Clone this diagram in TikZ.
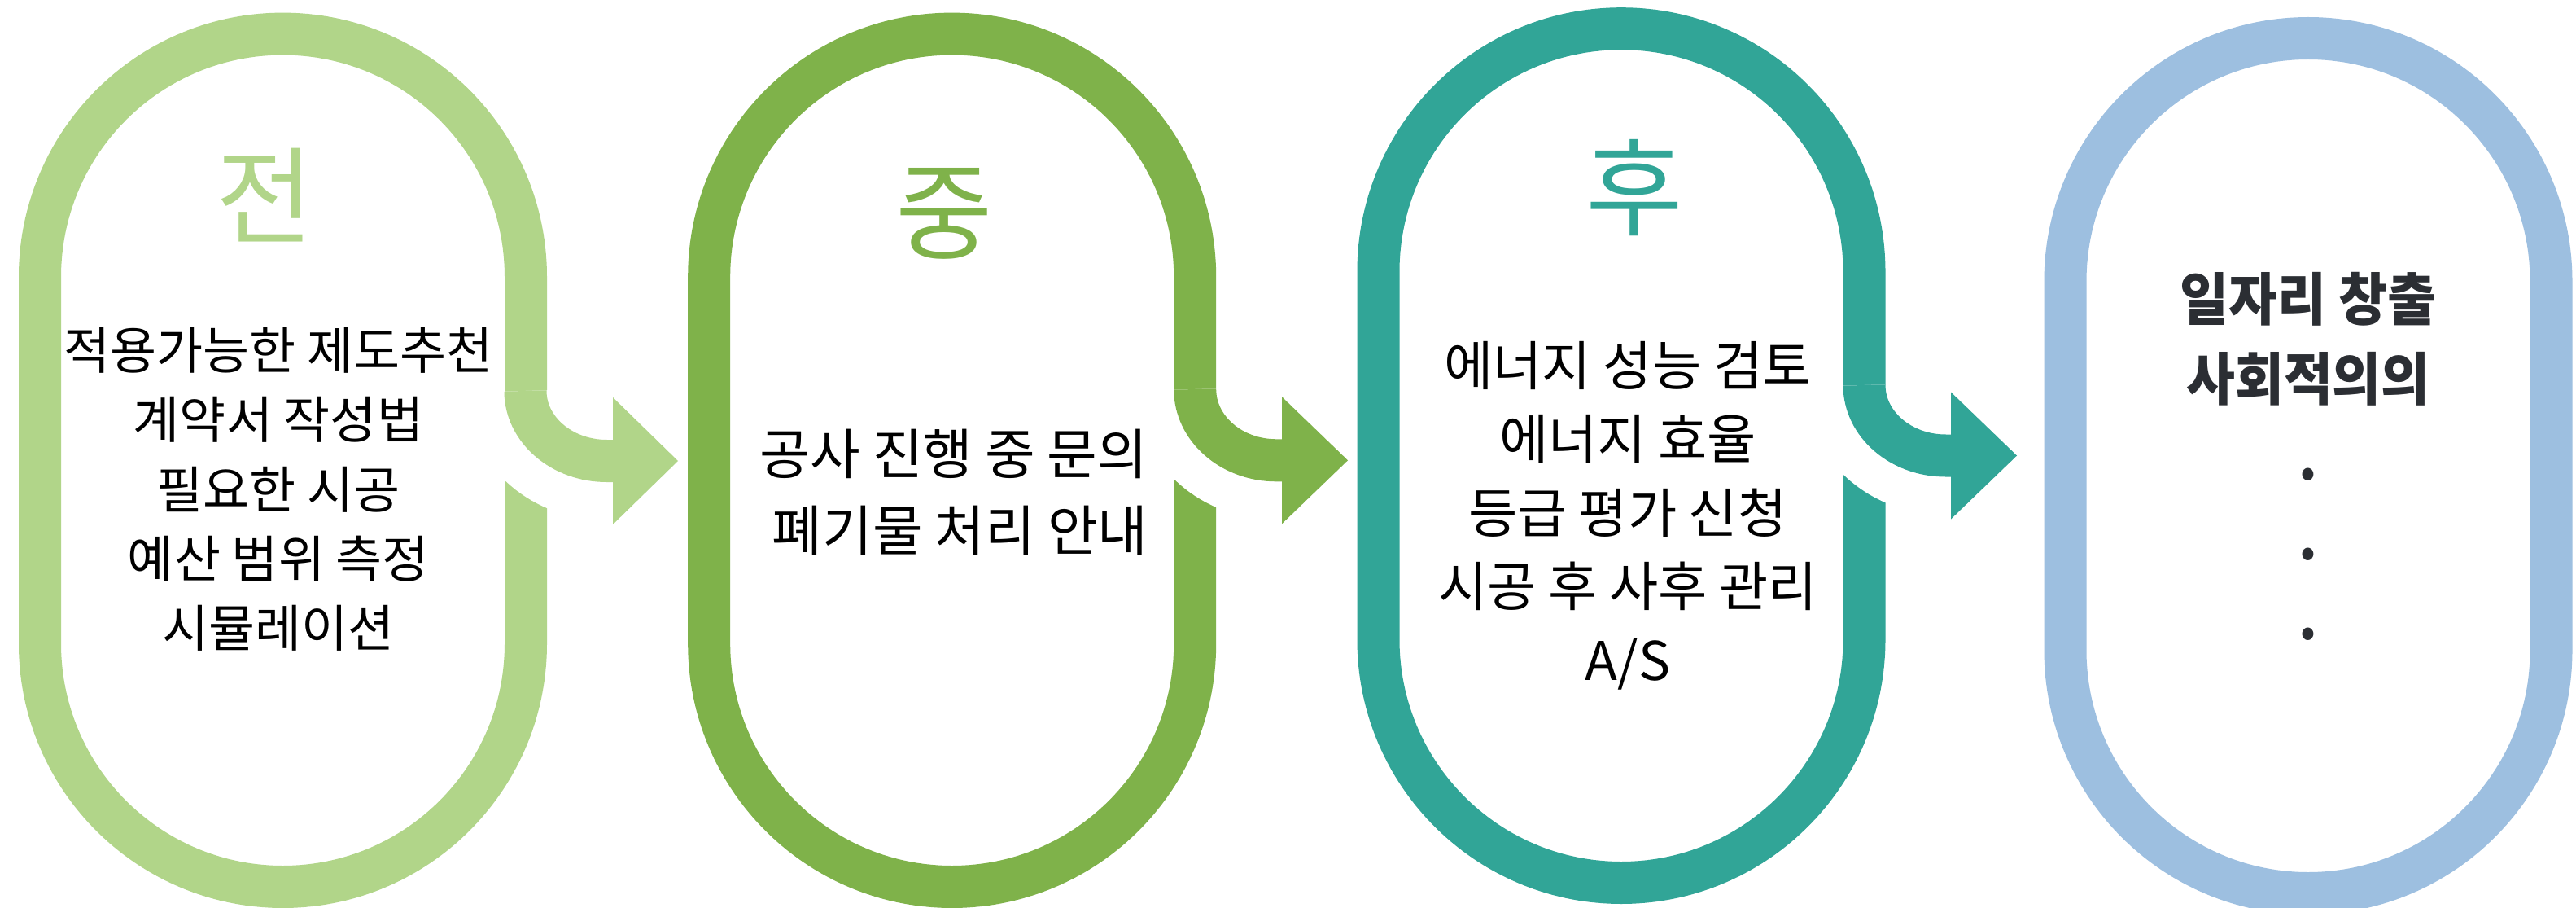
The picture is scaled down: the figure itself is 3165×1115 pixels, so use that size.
\documentclass[tikz,border=0pt]{standalone}
\usepackage{fontspec}
\usetikzlibrary{calc}
\newfontfamily\krfont{Noto Sans CJK KR}
\newfontfamily\krboldfam[FakeStretch=0.93]{Noto Sans CJK KR}
\definecolor{cA}{HTML}{B1D589}
\definecolor{cB}{HTML}{7FB24A}
\definecolor{cC}{HTML}{31A597}
\definecolor{cD}{HTML}{9DBFE0}
\definecolor{txtD}{HTML}{2B2E33}
\tikzset{
  pill/.style={line width=52pt},
  casing/.style={draw=white, line width=146pt, line cap=butt},
  shaft/.style={line width=52pt, line cap=butt},
  title/.style={inner sep=0pt, font=\krfont\fontsize{130}{150}\selectfont},
  body/.style={inner sep=0pt, align=center, anchor=north},
}
% #1 centre x, #2 outer top, #3 outer bottom, #4 colour
\newcommand\DrawPill[4]{%
  \draw[pill,#4] (#1-298.5,#2+26+298.5) arc[start angle=180,end angle=360,radius=298.5]
     -- (#1+298.5,#3-26-298.5) arc[start angle=0,end angle=180,radius=298.5] -- cycle;}
\begin{document}
\begin{tikzpicture}[x=1pt,y=-1pt]
\path[use as bounding box] (0,0) rectangle (3165,1115);
\clip (0,0) rectangle (3165,1115);
\fill[white] (0,0) rectangle (3165,1115);

% pills
\DrawPill{347.5}{15.6}{1115}{cA}
\DrawPill{1169.7}{15.6}{1115}{cB}
\DrawPill{1992}{9.2}{1110}{cC}
\DrawPill{2836}{21}{1123}{cD}

% arrow coordinates
\coordinate (s1) at (645.5,480);   \coordinate (e1) at (745.5,566);
\coordinate (b1) at (754,566);     \coordinate (k1) at (753,566);  \coordinate (p1) at (833,566);
\coordinate (s2) at (1468.2,478);  \coordinate (e2) at (1568.2,565.3);
\coordinate (b2) at (1576,565.3);  \coordinate (k2) at (1575,565.3); \coordinate (p2) at (1656,565.3);
\coordinate (s3) at (2290.5,473);  \coordinate (e3) at (2390.5,559.5);
\coordinate (b3) at (2398,559.5);  \coordinate (k3) at (2397,559.5); \coordinate (p3) at (2478,559.5);

% arrow 1
\draw[casing] (s1) .. controls (645.5,527.5) and (690.3,566) .. (e1) -- (b1);
\draw[shaft,cA] (s1) .. controls (645.5,527.5) and (690.3,566) .. (e1) -- (b1);
\fill[cA] ($(k1)+(0,-78)$) -- (p1) -- ($(k1)+(0,78)$) -- cycle;
% arrow 2
\draw[casing] (s2) .. controls (1468.2,526.2) and (1513,565.3) .. (e2) -- (b2);
\draw[shaft,cB] (s2) .. controls (1468.2,526.2) and (1513,565.3) .. (e2) -- (b2);
\fill[cB] ($(k2)+(0,-78)$) -- (p2) -- ($(k2)+(0,78)$) -- cycle;
% arrow 3
\draw[casing] (s3) .. controls (2290.5,520.7) and (2335.3,559.5) .. (e3) -- (b3);
\draw[shaft,cC] (s3) .. controls (2290.5,520.7) and (2335.3,559.5) .. (e3) -- (b3);
\fill[cC] ($(k3)+(0,-78)$) -- (p3) -- ($(k3)+(0,78)$) -- cycle;

% titles
\node[title,text=cA] (h1) at (325,240) {전};
\node[title,text=cB] (h2) at (1160,262) {중};
\node[title,text=cC] (h3) at (2008.6,231) {후};

% body texts
\node[body,font=\krfont\fontsize{62}{85.3}\selectfont] (t1) at (342,402)
  {적용가능한 제도추천\\계약서 작성법\\필요한 시공\\예산 범위 측정\\시뮬레이션};
\node[body,font=\krfont\fontsize{67}{94}\selectfont] (t2) at (1172,527)
  {공사 진행 중 문의\\\hspace*{0.23em}폐기물 처리 안내};
\node[body,font=\krfont\fontsize{65.5}{90.5}\selectfont] (t3) at (2000,419)
  {에너지 성능 검토\\에너지 효율\\등급 평가 신청\hspace*{0.23em}\\시공 후 사후 관리\\A/S};
\node[body,text=txtD,font=\krboldfam\bfseries\fontsize{70}{98}\selectfont] (t4) at (2836,334)
  {일자리 창출\\사회적의의\\.\\.\\.};
\end{tikzpicture}
\end{document}
